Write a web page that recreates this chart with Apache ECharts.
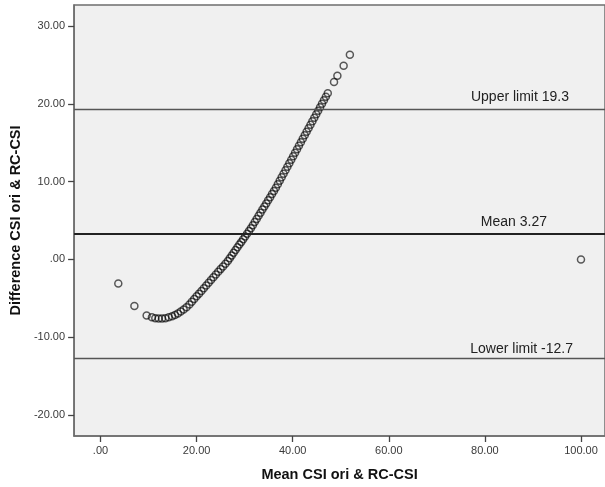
<!DOCTYPE html>
<html>
<head>
<meta charset="utf-8">
<script src="https://cdn.jsdelivr.net/npm/echarts@6/dist/echarts.min.js"></script>
<style>
  html, body { margin: 0; padding: 0; background: #fff; }
  #chart { width: 605px; height: 487px; }
</style>
</head>
<body>
<div id="chart"></div>
<script>
// mean of the two measures (x) and their difference (y)
const meanCsi = [
  3.7, 7.05, 100,
  9.6, 10.7, 11.4, 12.1, 12.8, 13.5, 14.2, 14.9, 15.5, 16.1, 16.7, 17.3, 17.9, 18.5, 19.0, 19.5,
  20.0, 20.5, 21.0, 21.5, 22.0, 22.5, 23.0, 23.5, 24.0, 24.5, 25.0, 25.5, 26.0, 26.5, 26.9,
  27.3, 27.7, 28.1, 28.5, 28.9, 29.3, 29.7, 30.1, 30.5, 30.9, 31.3, 31.7, 32.1, 32.5, 32.9,
  33.3, 33.7, 34.1, 34.5, 34.9, 35.3, 35.7, 36.1, 36.5, 36.9, 37.3, 37.7, 38.1, 38.5, 38.9,
  39.3, 39.7, 40.1, 40.5, 40.9, 41.3, 41.7, 42.1, 42.5, 42.9, 43.3, 43.7, 44.1, 44.5, 44.9,
  45.3, 45.7, 46.1, 46.5, 46.9, 47.3, 48.6, 49.3, 50.6, 51.9
];
const diffCsi = [
  -3.1, -6.0, 0.0,
  -7.2, -7.45, -7.55, -7.6, -7.6, -7.55, -7.45, -7.3, -7.15, -6.95, -6.7, -6.45, -6.15, -5.8, -5.45, -5.1,
  -4.75, -4.4, -4.05, -3.7, -3.35, -3.0, -2.65, -2.3, -1.95, -1.6, -1.25, -0.9, -0.55, -0.2, 0.15,
  0.5, 0.85, 1.2, 1.55, 1.9, 2.25, 2.6, 2.95, 3.3, 3.65, 4.0, 4.4, 4.8, 5.2, 5.6,
  6.0, 6.4, 6.8, 7.2, 7.6, 8.0, 8.4, 8.8, 9.2, 9.65, 10.1, 10.55, 11.0, 11.45, 11.9,
  12.35, 12.8, 13.25, 13.7, 14.15, 14.6, 15.05, 15.5, 15.95, 16.4, 16.85, 17.3, 17.75, 18.2, 18.65,
  19.1, 19.55, 20.0, 20.45, 20.9, 21.35, 22.8, 23.6, 24.9, 26.3
];

const refNames = ['Upper limit', 'Mean', 'Lower limit'];
const refValues = [19.3, 3.27, -12.7];
const refLabels = ['19.3', '3.27', '-12.7'];

const xTicks = [0, 20, 40, 60, 80, 100];
const yTicks = [-20, -10, 0, 10, 20, 30];

const fmt = v => (v === 0 ? '.00' : v.toFixed(2));

const chart = echarts.init(document.getElementById('chart'));

const axisFont = { fontFamily: 'Liberation Sans', fontSize: 11, color: '#3a3a3a' };
const nameFont = { fontFamily: 'Liberation Sans', fontSize: 14.5, fontWeight: 'bold', color: '#111' };

// label offsets from the right end of each line
const labelShift = [[36, 5], [58, 5], [32, 2]];
const lineStyles = [
  { color: '#555', width: 1.4 },
  { color: '#222', width: 2.2 },
  { color: '#555', width: 1.4 }
];

const option = {
  animation: false,
  grid: {
    left: 71,
    right: 0,
    top: 5,
    bottom: 50,
    show: true,
    backgroundColor: '#f0f0f0',
    borderColor: '#6e6e6e',
    borderWidth: 1.5
  },
  xAxis: {
    type: 'value',
    min: -5.5,
    max: 105,
    name: 'Mean CSI ori & RC-CSI',
    nameLocation: 'middle',
    nameGap: 31,
    nameTextStyle: nameFont,
    splitLine: { show: false },
    axisLine: { show: true, onZero: false, lineStyle: { color: '#6e6e6e', width: 1.5 } },
    axisTick: { show: true, length: 6, customValues: xTicks, lineStyle: { color: '#444', width: 1.3 } },
    axisLabel: { ...axisFont, margin: 9, customValues: xTicks, formatter: fmt }
  },
  yAxis: {
    type: 'value',
    min: -22.7,
    max: 32.7,
    name: 'Difference CSI ori & RC-CSI',
    nameLocation: 'middle',
    nameGap: 43,
    nameTextStyle: nameFont,
    splitLine: { show: false },
    axisLine: { show: true, onZero: false, lineStyle: { color: '#6e6e6e', width: 1.5 } },
    axisTick: { show: true, length: 6, customValues: yTicks, lineStyle: { color: '#444', width: 1.3 } },
    axisLabel: { ...axisFont, margin: 9, customValues: yTicks, formatter: fmt }
  },
  series: [{
    type: 'scatter',
    data: meanCsi.map((x, i) => [x, diffCsi[i]]),
    symbol: 'circle',
    symbolSize: 7,
    itemStyle: {
      color: 'rgba(0,0,0,0)',
      borderColor: 'rgba(0,0,0,0.8)',
      borderWidth: 1.5
    },
    markLine: {
      silent: true,
      symbol: 'none',
      animation: false,
      data: refValues.map((v, i) => ({
        yAxis: v,
        lineStyle: { ...lineStyles[i], type: 'solid' },
        label: {
          show: true,
          position: 'insideEndTop',
          distance: labelShift[i],
          formatter: refNames[i] + ' ' + refLabels[i],
          fontFamily: 'Liberation Sans',
          fontSize: 14,
          color: '#222'
        }
      }))
    }
  }]
};

chart.setOption(option);
</script>
</body>
</html>
